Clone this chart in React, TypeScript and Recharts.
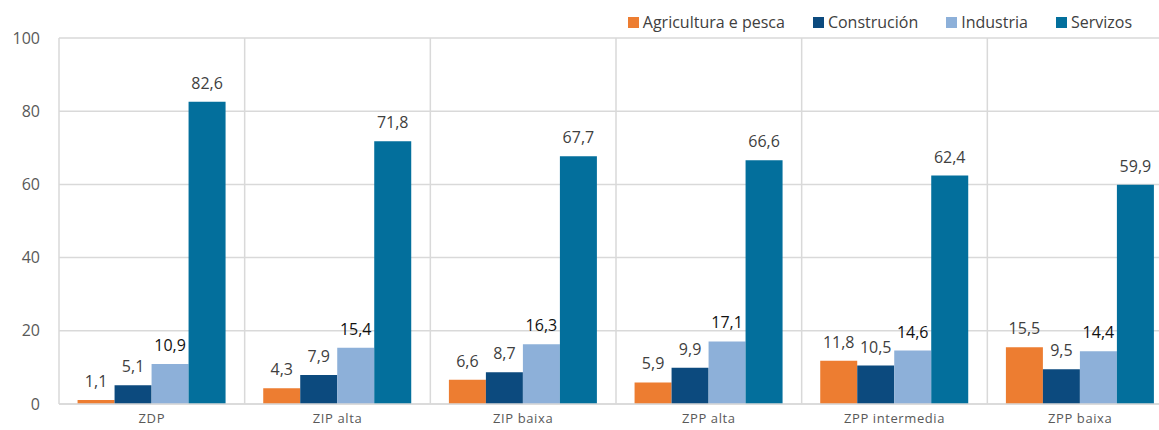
import { BarChart, Bar, XAxis, YAxis, CartesianGrid, LabelList } from "recharts";

const categories = ["ZDP", "ZIP alta", "ZIP baixa", "ZPP alta", "ZPP intermedia", "ZPP baixa"];
const agricultura = [1.1, 4.3, 6.6, 5.9, 11.8, 15.5];
const construcion = [5.1, 7.9, 8.7, 9.9, 10.5, 9.5];
const industria = [10.9, 15.4, 16.3, 17.1, 14.6, 14.4];
const servizos = [82.6, 71.8, 67.7, 66.6, 62.4, 59.9];
const yTicks = [0, 20, 40, 60, 80, 100];

const series = [
  { key: "agricultura", name: "Agricultura e pesca", color: "#ED7D31", label: "#404040" },
  { key: "construcion", name: "Construción", color: "#0C4A7E", label: "#404040" },
  { key: "industria", name: "Industria", color: "#8DB0D9", label: "#111111" },
  { key: "servizos", name: "Servizos", color: "#036F9C", label: "#404040" },
];

const data = categories.map((cat, i) => ({
  cat,
  agricultura: agricultura[i],
  construcion: construcion[i],
  industria: industria[i],
  servizos: servizos[i],
}));

const FONT = "'Open Sans', 'Noto Sans', sans-serif";
const fmt = (v: any) => Number(v).toFixed(1).replace(".", ",");

function LegendBox() {
  return (
    <div
      style={{
        position: "absolute",
        top: 11,
        right: 27,
        display: "flex",
        gap: 28,
        fontFamily: FONT,
        fontSize: 16,
        color: "#404040",
        lineHeight: "22px",
      }}
    >
      {series.map((s) => (
        <div key={s.key} style={{ display: "flex", alignItems: "center", gap: 4 }}>
          <span style={{ width: 11, height: 11, background: s.color, display: "inline-block" }} />
          <span>{s.name}</span>
        </div>
      ))}
    </div>
  );
}

export default function App() {
  return (
    <div style={{ position: "fixed", left: 0, top: 0, width: 1159, height: 430, overflow: "hidden", background: "#fff" }}>
      <BarChart
        width={1175}
        height={430}
        data={data}
        margin={{ top: 38, right: 2, left: 0, bottom: 0 }}
        barCategoryGap="10%"
        barGap={0}
      >
        <CartesianGrid
          stroke="#D9D9D9"
          strokeWidth={1.5}
          verticalCoordinatesGenerator={({ offset }: any) =>
            categories.map((_, i) => offset.left + (i * offset.width) / categories.length).concat(offset.left + offset.width)
          }
        />
        <XAxis
          dataKey="cat"
          height={26}
          tickLine={false}
          axisLine={{ stroke: "#D9D9D9", strokeWidth: 1.5 }}
          tickMargin={4}
          tick={{ fontSize: 13, fill: "#595959", fontFamily: FONT, letterSpacing: 0.6 }}
          interval={0}
        />
        <YAxis
          width={59}
          domain={[0, 100]}
          ticks={yTicks}
          tickLine={false}
          axisLine={false}
          tickMargin={13}
          tick={{ fontSize: 16, fill: "#595959", fontFamily: FONT }}
        />
        {series.map((s) => (
          <Bar key={s.key} dataKey={s.key} name={s.name} fill={s.color} isAnimationActive={false}>
            <LabelList
              dataKey={s.key}
              position="top"
              offset={13}
              formatter={fmt}
              style={{ fontSize: 16, fill: s.label, fontFamily: FONT }}
            />
          </Bar>
        ))}
      </BarChart>
      <LegendBox />
    </div>
  );
}
